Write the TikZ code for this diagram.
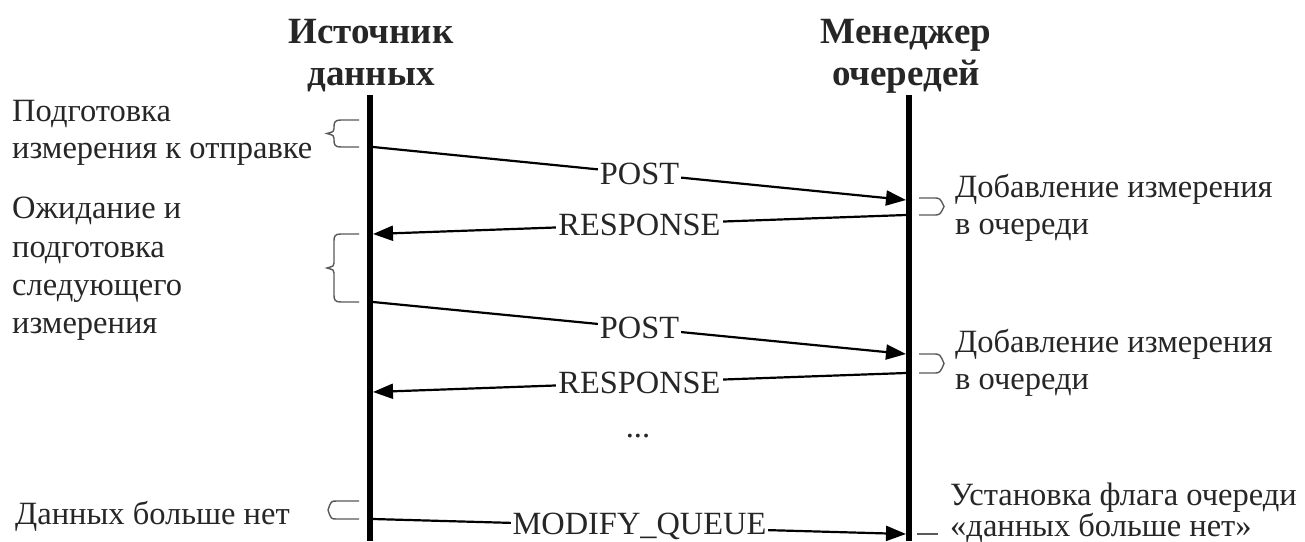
\documentclass[tikz,border=0pt]{standalone}
\usepackage{fontspec}
\setmainfont{Liberation Serif}
\usetikzlibrary{arrows.meta}

% left-pointing curly brace between two heights on the source lifeline
\newcommand{\bracel}[2]{%
  \pgfmathsetmacro{\ym}{(#1+#2)/2}%
  \draw[brk] (359,#1) -- (341,#1) .. controls (335,#1) and (334,#1+2) .. (334,#1+7)
    -- (334,\ym-5) .. controls (334,\ym-2) .. (327,\ym)
    .. controls (334,\ym+2) .. (334,\ym+5)
    -- (334,#2-7) .. controls (334,#2-2) and (335,#2) .. (341,#2) -- (359,#2);}
% right-pointing bracket on the manager lifeline
\newcommand{\bracer}[2]{%
  \pgfmathsetmacro{\ym}{(#1+#2)/2}%
  \draw[brk] (919,#1) -- (933,#1) .. controls (940,#1) .. (944,\ym)
    .. controls (940,#2) .. (933,#2) -- (919,#2);}

\begin{document}
\begin{tikzpicture}[x=1pt,y=-1pt,
  every node/.style={inner sep=0pt, text=black!85},
  head/.style={font=\fontsize{37}{44}\selectfont\bfseries, anchor=base},
  note/.style={font=\fontsize{32.5}{39}\selectfont, anchor=base west},
  life/.style={line width=5.5pt},
  msg/.style={line width=2.2pt, -{Triangle[length=20pt,width=15pt]}},
  lbl/.style={font=\fontsize{32.4}{39}\selectfont, fill=white, inner xsep=2pt, inner ysep=1pt},
  brk/.style={line width=1.4pt, black!65},
]
\useasboundingbox (0,0) rectangle (1305,541);

% participants
\node[head] (srcA) at (371,43) {Источник};
\node[head] (srcB) at (371,85) {данных};
\node[head] (mgrA) at (906,43) {Менеджер};
\node[head] (mgrB) at (906,85) {очередей};

% lifelines
\coordinate (srcTop) at (370,95);
\coordinate (srcBot) at (370,541);
\coordinate (mgrTop) at (909,95);
\coordinate (mgrBot) at (909,541);
\draw[life] (srcTop) -- (srcBot);
\draw[life] (mgrTop) -- (mgrBot);

% messages
\coordinate (s1) at (373,147); \coordinate (m1) at (906,200);
\draw[msg] (s1) -- node[lbl] (post1) {POST} (m1);
\coordinate (m2) at (906,215); \coordinate (s2) at (373,234);
\draw[msg] (m2) -- node[lbl] (resp1) {RESPONSE} (s2);
\coordinate (s3) at (373,302); \coordinate (m3) at (906,354);
\draw[msg] (s3) -- node[lbl] (post2) {POST} (m3);
\coordinate (m4) at (906,373); \coordinate (s4) at (373,392);
\draw[msg] (m4) -- node[lbl] (resp2) {RESPONSE} (s4);
\node[lbl, fill=none, anchor=base] (dots) at (638,437) {...};
\coordinate (s5) at (373,519); \coordinate (m5) at (906,534);
\draw[msg] (s5) -- node[lbl] (mq) {MODIFY\_QUEUE} (m5);

% activity brackets
\bracel{120}{147}
\bracel{234}{302}
\draw[brk] (359,501) -- (337,501) .. controls (331,501) .. (328,510)
  .. controls (331,519) .. (337,519) -- (359,519);
\bracer{198}{215}
\bracer{354}{373}
\draw[brk] (917,534) -- (938,534);

% source side notes
\node[note] (n1a) at (12,121) {Подготовка};
\node[note] (n1b) at (12,158) {измерения к отправке};
\node[note] (n2a) at (12,218) {Ожидание и};
\node[note] (n2b) at (12,257) {подготовка};
\node[note] (n2c) at (12,295) {следующего};
\node[note] (n2d) at (12,333) {измерения};
\node[note] (n3a) at (15,524) {Данных больше нет};

% manager side notes
\node[note] (q1a) at (955,197) {Добавление измерения};
\node[note] (q1b) at (955,234) {в очереди};
\node[note] (q2a) at (955,352) {Добавление измерения};
\node[note] (q2b) at (955,389) {в очереди};
\node[note] (q3a) at (950,505) {Установка флага очереди};
\node[note] (q3b) at (950,536) {«данных больше нет»};
\end{tikzpicture}
\end{document}
